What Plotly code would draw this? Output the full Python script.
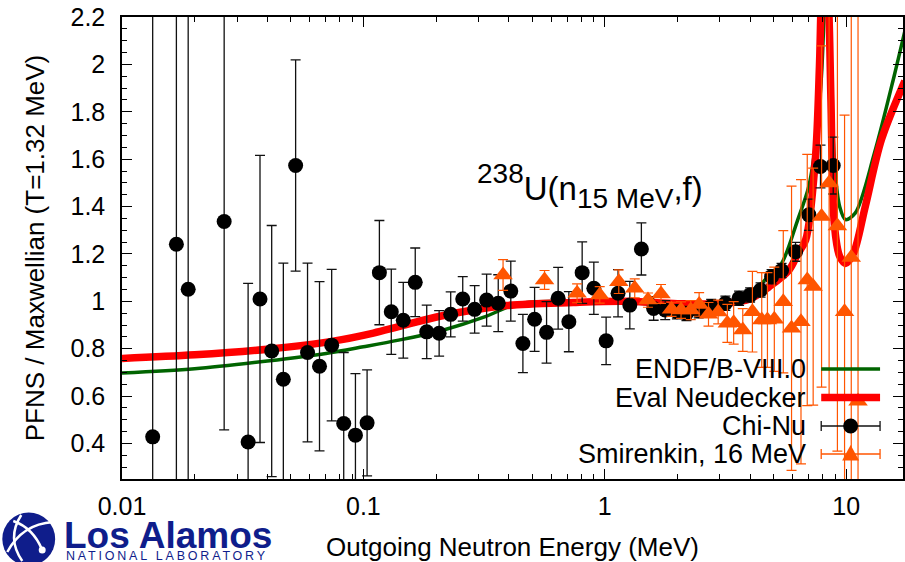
import math
import plotly.graph_objects as go

# ---------------- data ----------------
endf_e = [0.01, 0.02, 0.04, 0.07, 0.1, 0.14, 0.21, 0.32, 0.42, 0.53, 0.8, 1.2, 1.8, 2.5,
          3.2, 3.8, 4.47, 4.9, 5.4, 6.3, 7.0, 7.5, 7.9, 8.2, 8.45, 8.7, 9.0, 9.4, 9.93,
          10.9, 13.1, 15.8, 17.5]
endf_v = [0.697, 0.715, 0.748, 0.78, 0.808, 0.836, 0.876, 0.935, 0.985, 0.998, 1.0, 0.995, 0.985, 0.98,
          0.99, 1.02, 1.076, 1.12, 1.16, 1.344, 1.485, 1.68, 1.95, 2.35, 2.6, 1.9, 1.55, 1.40, 1.345,
          1.372, 1.626, 1.95, 2.14]

neud_e = [0.01, 0.02, 0.04, 0.075, 0.11, 0.14, 0.21, 0.39, 0.74, 1.2, 2.0, 3.0, 4.0, 4.8,
          5.8, 6.3, 6.8, 7.45, 7.75, 8.1, 8.5, 8.65, 8.95, 9.4, 9.95, 10.7, 12.0, 14.0, 17.5]
neud_v = [0.759, 0.774, 0.798, 0.832, 0.866, 0.893, 0.938, 0.982, 0.995, 1.0, 0.99, 0.99, 1.01, 1.062,
          1.132, 1.2, 1.26, 1.597, 1.99, 2.7, 2.19, 1.85, 1.316, 1.19, 1.16, 1.2, 1.40, 1.682, 1.93]

chinu_e = [0.0134, 0.0168, 0.0188, 0.0265, 0.0333, 0.0373, 0.0417, 0.0466, 0.0524, 0.0587,
           0.0658, 0.0739, 0.0829, 0.0927, 0.1036, 0.1165, 0.1305, 0.1463, 0.164, 0.183,
           0.206, 0.230, 0.258, 0.289, 0.324, 0.362, 0.408, 0.458, 0.512, 0.574,
           0.641, 0.710, 0.806, 0.901, 1.013, 1.135, 1.27, 1.418, 1.594, 1.78,
           1.99, 2.18, 2.45, 2.76, 3.16, 3.6, 4.0, 4.42, 4.91, 5.4,
           6.17, 7.01, 7.83, 8.84]
chinu_v = [0.428, 1.241, 1.051, 1.337, 0.406, 1.010, 0.790, 0.671, 1.573, 0.784,
           0.726, 0.815, 0.484, 0.435, 0.487, 1.121, 0.956, 0.920, 1.080, 0.871,
           0.865, 0.945, 1.010, 0.966, 1.005, 0.992, 1.043, 0.822, 0.924, 0.869,
           1.013, 0.914, 1.121, 1.055, 0.833, 1.034, 0.984, 1.221, 0.970, 0.963,
           0.956, 0.949, 0.960, 0.978, 0.992, 1.013, 1.027, 1.048, 1.104, 1.130,
           1.209, 1.365, 1.569, 1.573]
chinu_err = [2.0, 2.0, 2.0, 0.88, 0.67, 0.606, 0.53, 0.49, 0.446, 0.377,
             0.357, 0.32, 0.30, 0.26, 0.224, 0.22, 0.18, 0.16, 0.145, 0.113,
             0.096, 0.095, 0.094, 0.10, 0.11, 0.12, 0.127, 0.123, 0.135, 0.13,
             0.13, 0.127, 0.13, 0.11, 0.10, 0.10, 0.10, 0.11, 0.05, 0.04,
             0.03, 0.03, 0.03, 0.03, 0.03, 0.03, 0.03, 0.03, 0.03, 0.03,
             0.04, 0.066, 0.09, 0.12]

smir_e = [0.379, 0.563, 0.768, 0.953, 1.143, 1.331, 1.51, 1.71, 1.89, 2.07,
          2.27, 2.46, 2.69, 2.95, 3.22, 3.42, 3.73, 4.09, 4.47, 4.72,
          5.04, 5.49, 5.94, 6.5, 6.9, 7.3, 7.91, 8.5, 9.2, 9.85,
          10.5, 11.2]
smir_v = [1.111, 1.090, 1.034, 1.027, 1.083, 1.055, 1.005, 1.031, 0.966, 0.963,
          0.963, 0.987, 0.945, 0.955, 0.907, 0.909, 0.879, 0.956, 0.921, 0.921,
          0.924, 0.998, 0.886, 0.914, 1.09, 1.062, 1.358, 1.499, 1.318, 0.956,
          1.185, 0.578]
smir_err = [0.065, 0.04, 0.04, 0.035, 0.05, 0.04, 0.03, 0.04, 0.03, 0.035,
            0.04, 0.05, 0.05, 0.05, 0.08, 0.09, 0.09, 0.17, 0.2, 0.2,
            0.22, 0.3, 0.6, 0.6, 0.53, 0.5, 0.72, 0.9, 0.95, 0.83,
            1.8, 1.8]

x_ticks = [0.01, 0.1, 1, 10]
x_ticktext = ["0.01", "0.1", "1", "10"]
y_ticks = [0.4, 0.6, 0.8, 1.0, 1.2, 1.4, 1.6, 1.8, 2.0, 2.2]
y_ticktext = ["0.4", "0.6", "0.8", "1", "1.2", "1.4", "1.6", "1.8", "2", "2.2"]

legend_names = ["ENDF/B-VIII.0", "Eval Neudecker", "Chi-Nu", "Smirenkin, 16 MeV"]

# ---------------- styling ----------------
GREEN = "#006400"
RED = "#ff0000"
ORANGE = "#ff5500"
NAVY = "#0f1d8b"
FONT = "Liberation Sans, Arial, Helvetica, sans-serif"

W, H = 905, 562
L, R, T, B = 122, 0, 17, 83
PW, PH = W - L - R, H - T - B


def PX(x):
    return (x - L) / PW


def PY(y):
    return 1 - (y - T) / PH


fig = go.Figure()

fig.add_trace(go.Scatter(x=endf_e, y=endf_v, mode="lines", name=legend_names[0],
                         line=dict(color=GREEN, width=3.5, shape="spline", smoothing=0.9)))
fig.add_trace(go.Scatter(x=neud_e, y=neud_v, mode="lines", name=legend_names[1],
                         line=dict(color=RED, width=7.5, shape="spline", smoothing=0.9)))
fig.add_trace(go.Scatter(x=chinu_e, y=chinu_v, mode="markers", name=legend_names[2],
                         marker=dict(symbol="circle", size=15, color="black"),
                         error_y=dict(type="data", array=chinu_err, visible=True,
                                      color="#111111", thickness=1.3, width=5)))
fig.add_trace(go.Scatter(x=smir_e, y=smir_v, mode="markers", name=legend_names[3],
                         marker=dict(symbol="triangle-up", size=17, color=ORANGE),
                         error_y=dict(type="data", array=smir_err, visible=True,
                                      color=ORANGE, thickness=1.2, width=5)))

x_minor = [m * 10 ** d for d in (-2, -1, 0, 1) for m in range(2, 10)]
y_minor = [round(0.25 + 0.05 * i, 2) for i in range(40)]
y_minor = [v for v in y_minor if v <= 2.2 and abs((v * 10) % 2) > 1e-6]

fig.update_layout(
    width=W, height=H,
    margin=dict(l=L, r=R, t=T, b=B, pad=0),
    paper_bgcolor="white", plot_bgcolor="white",
    font=dict(family=FONT, size=25, color="black"),
    showlegend=False,
    xaxis=dict(type="log", range=[-2, math.log10(17.2)],
               tickmode="array", tickvals=x_ticks, ticktext=x_ticktext,
               ticks="inside", ticklen=10, tickwidth=1, tickcolor="black",
               showline=True, linecolor="black", linewidth=1.5, mirror="ticks",
               showgrid=False, zeroline=False, ticklabelstandoff=4,
               minor=dict(tickmode="array", tickvals=x_minor, ticks="inside", ticklen=5,
                          tickwidth=1, tickcolor="black", showgrid=False),
               title=dict(text="Outgoing Neutron Energy (MeV)", font=dict(size=26), standoff=19)),
    yaxis=dict(range=[0.25, 2.2],
               tickmode="array", tickvals=y_ticks, ticktext=y_ticktext,
               ticks="inside", ticklen=10, tickwidth=1, tickcolor="black",
               showline=True, linecolor="black", linewidth=1.5, mirror="ticks",
               showgrid=False, zeroline=False, ticklabelstandoff=10,
               minor=dict(tickmode="array", tickvals=y_minor, ticks="inside", ticklen=5,
                          tickwidth=1, tickcolor="black", showgrid=False),
               title=dict(text="PFNS / Maxwellian (T=1.32 MeV)", font=dict(size=26), standoff=18)),
)

annotations = []
shapes = []

# reaction label
annotations.append(dict(
    xref="paper", yref="paper", x=PX(591), y=PY(186), xanchor="center", yanchor="middle",
    showarrow=False, font=dict(family=FONT, size=40, color="black"),
    text="<sup>238</sup><span style='font-size:33px'>U(n</span><sub>15 MeV</sub>"
         "<span style='font-size:33px'>,f)</span>"))

# custom gnuplot-style key (text right aligned, sample on the right)
rows = [369, 397.5, 426, 454]
sx0, sx1, sxc = 823, 882, 852.5
for name, ry in zip(legend_names, rows):
    annotations.append(dict(xref="paper", yref="paper", x=PX(810), y=PY(ry),
                            xanchor="right", yanchor="middle", showarrow=False,
                            text=name, font=dict(family=FONT, size=27, color="black")))

shapes.append(dict(type="line", xref="paper", yref="paper", x0=PX(sx0), x1=PX(sx1),
                   y0=PY(rows[0]), y1=PY(rows[0]), line=dict(color=GREEN, width=3.5)))
shapes.append(dict(type="line", xref="paper", yref="paper", x0=PX(sx0), x1=PX(sx1),
                   y0=PY(rows[1]), y1=PY(rows[1]), line=dict(color=RED, width=7.5)))
for ry, col in ((rows[2], "#111111"), (rows[3], ORANGE)):
    shapes.append(dict(type="line", xref="paper", yref="paper", x0=PX(sx0), x1=PX(sx1),
                       y0=PY(ry), y1=PY(ry), line=dict(color=col, width=1.3)))
    for cx in (sx0, sx1):
        shapes.append(dict(type="line", xref="paper", yref="paper", x0=PX(cx), x1=PX(cx),
                           y0=PY(ry - 5), y1=PY(ry + 5), line=dict(color=col, width=1.3)))
shapes.append(dict(type="circle", xref="paper", yref="paper",
                   x0=PX(sxc - 7.5), x1=PX(sxc + 7.5), y0=PY(rows[2] + 7.5), y1=PY(rows[2] - 7.5),
                   fillcolor="black", line=dict(width=0)))
shapes.append(dict(type="path", xref="paper", yref="paper",
                   path=f"M {PX(sxc - 8.5)},{PY(rows[3] + 6.5)} L {PX(sxc + 8.5)},{PY(rows[3] + 6.5)} "
                        f"L {PX(sxc)},{PY(rows[3] - 9)} Z",
                   fillcolor=ORANGE, line=dict(width=0)))

# Los Alamos logo (bottom left)
shapes.append(dict(type="circle", xref="paper", yref="paper",
                   x0=PX(2), x1=PX(55), y0=PY(565.5), y1=PY(512.5),
                   fillcolor=NAVY, line=dict(width=0), layer="above"))
for p in (((7, 552), (22, 524), (53, 522)),
          ((13, 521), (33, 528), (42, 550)),
          ((21, 515), (6, 538), (22, 561))):
    (a, b), (c, d), (e, f) = p
    shapes.append(dict(type="path", xref="paper", yref="paper", layer="above",
                       path=f"M {PX(a)},{PY(b)} Q {PX(c)},{PY(d)} {PX(e)},{PY(f)}",
                       line=dict(color="white", width=2.5)))
shapes.append(dict(type="circle", xref="paper", yref="paper", layer="above",
                   x0=PX(38.5), x1=PX(45.5), y0=PY(553.5), y1=PY(546.5),
                   fillcolor="white", line=dict(width=0)))
annotations.append(dict(xref="paper", yref="paper", x=PX(62), y=PY(535), xanchor="left",
                        yanchor="middle", showarrow=False, text="<b>Los Alamos</b>",
                        font=dict(family=FONT, size=37, color=NAVY)))
annotations.append(dict(xref="paper", yref="paper", x=PX(64), y=PY(555.5), xanchor="left",
                        yanchor="middle", showarrow=False,
                        text="<span style='letter-spacing:2.8px'>NATIONAL LABORATORY</span>",
                        font=dict(family=FONT, size=12.5, color=NAVY)))

fig.update_layout(annotations=annotations, shapes=shapes)
fig.write_html("out.html")
